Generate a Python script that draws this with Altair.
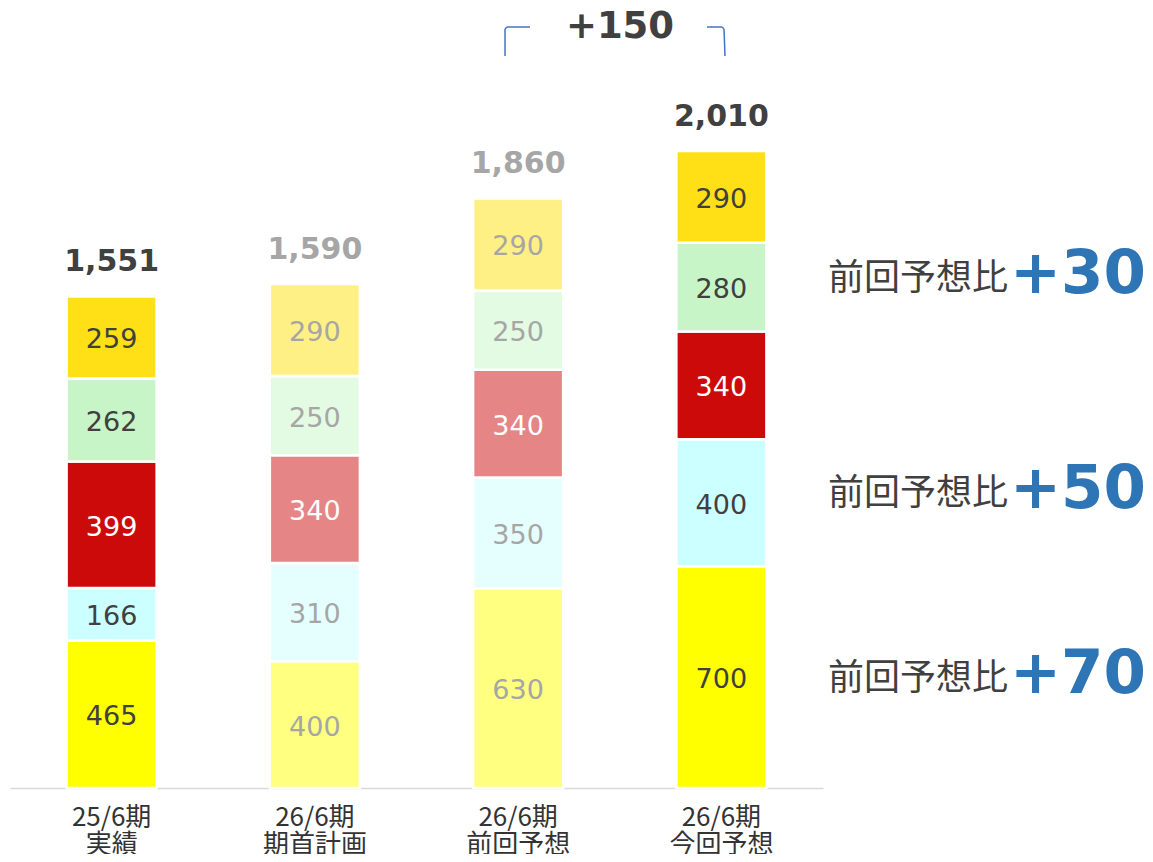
import altair as alt
import pandas as pd

# ---- data ----
categories = ["25/6期 実績", "26/6期 期首計画", "26/6期 前回予想", "26/6期 今回予想"]
faded = [False, True, True, False]          # plan / previous forecast drawn pale
seg_yellow = [465, 400, 630, 700]           # bottom segment
seg_cyan = [166, 310, 350, 400]
seg_red = [399, 340, 340, 340]
seg_green = [262, 250, 250, 280]
seg_gold = [259, 290, 290, 290]             # top segment
diff_labels = ["+30", "+50", "+70"]
diff_prefix = "前回予想比"
bracket_label = "+150"

seg_names = ["yellow", "cyan", "red", "green", "gold"]
seg_values = [seg_yellow, seg_cyan, seg_red, seg_green, seg_gold]

rows = []
for i, cat in enumerate(categories):
    for s, (name, vals) in enumerate(zip(seg_names, seg_values)):
        f = "faded" if faded[i] else "full"
        if name == "red":
            tkey = "white"
        else:
            tkey = "gray" if faded[i] else "dark"
        rows.append({"cat": cat, "seg": s, "value": vals[i],
                     "ckey": f"{name}_{f}", "tkey": tkey, "fade": f})
df = pd.DataFrame(rows)

# ---- styles ----
fill_colors = {
    "yellow_full": "#FFFF00", "yellow_faded": "#FFFF80",
    "cyan_full": "#CCFFFF", "cyan_faded": "#E5FFFF",
    "red_full": "#CC0A0A", "red_faded": "#E58585",
    "green_full": "#C7F5C7", "green_faded": "#E3FAE3",
    "gold_full": "#FFE016", "gold_faded": "#FFF086",
}
DARK = "#404040"
GRAY = "#A6A6A6"
NUM_FONT = "DejaVu Sans"
JP_FONT = "Noto Sans CJK JP"

PLOT_W, PLOT_H = 813, 780
TOTAL_W, TOTAL_H = 1137, 846

yscale = alt.Scale(domain=[0, 2461], nice=False, zero=True)
xscale = alt.Scale(paddingInner=0.557, paddingOuter=0.2785)

base = alt.Chart(df)

bars = base.mark_bar(stroke="white", strokeWidth=2.5).encode(
    x=alt.X("cat:N", sort=categories, scale=xscale,
            axis=alt.Axis(title=None, labelExpr="split(datum.label, ' ')",
                          ticks=False, domainColor="#D9D9D9", domainWidth=1.5,
                          labelFont=JP_FONT, labelFontSize=26, labelColor="#333333",
                          labelLineHeight=27, labelPadding=16, labelAngle=0,
                          grid=False)),
    y=alt.Y("value:Q", stack="zero", scale=yscale, axis=None),
    color=alt.Color("ckey:N", legend=None,
                    scale=alt.Scale(domain=list(fill_colors.keys()),
                                    range=list(fill_colors.values()))),
    order=alt.Order("seg:Q", sort="ascending"),
)

labels = base.transform_stack(
    stack="value", groupby=["cat"],
    sort=[alt.SortField("seg", order="ascending")], as_=["v0", "v1"]
).transform_calculate(
    mid="(datum.v0 + datum.v1) / 2"
).mark_text(font=NUM_FONT, fontSize=27, baseline="middle", dy=3).encode(
    x=alt.X("cat:N", sort=categories, scale=xscale),
    y=alt.Y("mid:Q", scale=yscale, axis=None),
    text=alt.Text("value:Q"),
    color=alt.Color("tkey:N", legend=None,
                    scale=alt.Scale(domain=["dark", "gray", "white"],
                                    range=[DARK, GRAY, "#FFFFFF"])),
)

totals = base.transform_aggregate(
    total="sum(value)", groupby=["cat", "fade"]
).mark_text(font=NUM_FONT, fontSize=30, fontWeight="bold",
            baseline="alphabetic", dy=-25).encode(
    x=alt.X("cat:N", sort=categories, scale=xscale),
    y=alt.Y("total:Q", scale=yscale, axis=None),
    text=alt.Text("total:Q", format=","),
    color=alt.Color("fade:N", legend=None,
                    scale=alt.Scale(domain=["full", "faded"], range=[DARK, GRAY])),
)

layers = [bars, labels, totals]

# right-side annotations (pixel baselines within plot area)
for lbl, yb in zip(diff_labels, [285, 500, 685]):
    layers.append(
        alt.Chart(pd.DataFrame({"t": [diff_prefix]})).mark_text(
            align="left", baseline="alphabetic", font=JP_FONT, fontSize=36,
            color=DARK).encode(x=alt.value(818), y=alt.value(yb - 3), text="t:N"))
    layers.append(
        alt.Chart(pd.DataFrame({"t": [lbl]})).mark_text(
            align="right", baseline="alphabetic", font=NUM_FONT, fontSize=61,
            fontWeight="bold", color="#2E75B6").encode(
            x=alt.value(1136), y=alt.value(yb), text="t:N"))

# bracket and +150
layers.append(
    alt.Chart(pd.DataFrame({"t": [bracket_label]})).mark_text(
        align="center", baseline="alphabetic", font=NUM_FONT, fontSize=37,
        fontWeight="bold", color=DARK).encode(
        x=alt.value(610), y=alt.value(30), text="t:N"))

dummy = pd.DataFrame({"a": [0]})
bracket_color = "#4472C4"
for (x1, x2, y1, y2) in [(495, 495, 21, 48), (497, 520, 19, 19),
                         (697, 712, 19, 19), (714, 715, 21, 48),
                         (495, 497, 21, 19), (712, 714, 19, 21)]:
    layers.append(
        alt.Chart(dummy).mark_rule(color=bracket_color, strokeWidth=1.5).encode(
            x=alt.value(x1), x2=alt.value(x2), y=alt.value(y1), y2=alt.value(y2)))

chart = alt.layer(*layers).resolve_scale(color="independent").properties(
    width=PLOT_W, height=PLOT_H,
    autosize=alt.AutoSizeParams(type="none"),
    padding={"left": 2, "top": 0,
             "right": TOTAL_W - 2 - PLOT_W, "bottom": TOTAL_H - PLOT_H},
).configure_view(stroke=None)

chart.save("out.html", embed_options={"renderer": "svg", "actions": False})
